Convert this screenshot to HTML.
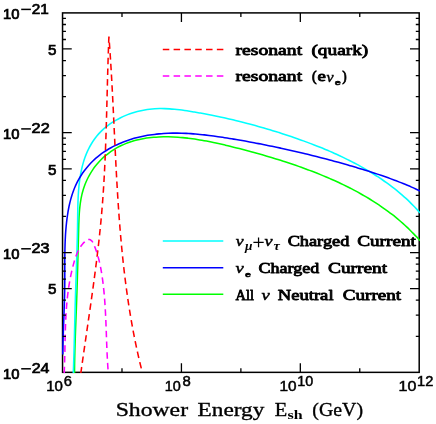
<!DOCTYPE html>
<html><head><meta charset="utf-8"><title>Shower Energy</title>
<style>
html,body{margin:0;padding:0;background:#fff;}
body{width:436px;height:424px;overflow:hidden;}
svg{display:block;}
.tk{font-family:"Liberation Sans",sans-serif;font-size:14px;fill:#000;stroke:#000;stroke-width:0.7px;}
.tx{font-family:"Liberation Sans",sans-serif;font-size:14px;fill:#000;stroke:#000;stroke-width:0.5px;}
.lg{font-family:"Liberation Serif",serif;font-size:14.4px;fill:#000;stroke:#000;stroke-width:0.8px;stroke-linejoin:round;}
.nu{font-family:"Liberation Serif",serif;font-style:italic;font-size:15.6px;fill:#000;stroke:#000;stroke-width:0.5px;}
.sb{font-family:"Liberation Sans",sans-serif;font-weight:bold;font-size:8.0px;fill:#000;stroke:#000;stroke-width:0.5px;}
.sbi{font-family:"Liberation Serif",serif;font-weight:bold;font-style:italic;font-size:11.5px;fill:#000;}
.sbs{font-family:"Liberation Serif",serif;font-weight:bold;font-size:12.5px;fill:#000;}
.ti{font-family:"Liberation Serif",serif;font-size:19.6px;fill:#000;stroke:#000;stroke-width:0.35px;}
</style></head><body>
<svg width="436" height="424" viewBox="0 0 436 424">
<rect x="0" y="0" width="436" height="424" fill="#fff"/>
<defs><clipPath id="cp"><rect x="61.80" y="12.15" width="358.15" height="360.95"/></clipPath></defs>
<rect x="62.55" y="12.90" width="356.65" height="359.45" fill="none" stroke="#000" stroke-width="1.50"/>
<g clip-path="url(#cp)" fill="none" stroke-linejoin="round">
<path d="M74.50,373.00C74.51,372.20 74.52,369.78 74.54,368.17C74.56,366.56 74.58,364.96 74.60,363.35C74.63,361.75 74.66,360.14 74.69,358.54C74.72,356.94 74.76,355.33 74.80,353.73C74.84,352.13 74.88,350.53 74.92,348.94C74.97,347.34 75.01,345.74 75.06,344.15C75.11,342.55 75.16,340.95 75.22,339.36C75.27,337.77 75.32,336.17 75.38,334.58C75.44,332.99 75.49,331.40 75.55,329.80C75.61,328.21 75.67,326.62 75.73,325.03C75.79,323.44 75.85,321.85 75.91,320.26C75.97,318.67 76.03,317.08 76.09,315.49C76.16,313.90 76.22,312.32 76.28,310.73C76.34,309.14 76.40,307.55 76.45,305.96C76.51,304.37 76.57,302.79 76.63,301.20C76.68,299.61 76.74,298.02 76.79,296.43C76.85,294.84 76.90,293.25 76.95,291.66C77.00,290.07 77.05,288.48 77.10,286.89C77.15,285.30 77.20,283.71 77.25,282.12C77.30,280.53 77.34,278.94 77.39,277.35C77.43,275.75 77.48,274.16 77.52,272.57C77.57,270.97 77.61,269.38 77.66,267.78C77.70,266.19 77.74,264.59 77.78,262.99C77.83,261.39 77.87,259.80 77.91,258.20C77.95,256.60 77.99,254.99 78.03,253.39C78.08,251.79 78.12,250.19 78.16,248.58C78.20,246.98 78.24,245.37 78.28,243.76C78.32,242.15 78.36,240.54 78.40,238.93C78.44,237.32 78.48,235.71 78.53,234.09C78.57,232.48 78.61,230.86 78.65,229.24C78.69,227.63 78.73,226.01 78.78,224.39C78.83,222.77 78.89,221.15 78.96,219.53C79.03,217.91 79.10,216.29 79.20,214.68C79.30,213.07 79.42,211.46 79.56,209.86C79.71,208.26 79.87,206.66 80.07,205.07C80.27,203.48 80.49,201.90 80.76,200.33C81.03,198.76 81.32,197.19 81.67,195.64C82.01,194.09 82.40,192.55 82.84,191.03C83.27,189.50 83.75,187.99 84.28,186.49C84.82,185.00 85.39,183.52 86.02,182.06C86.64,180.60 87.31,179.16 88.02,177.75C88.74,176.34 89.50,174.95 90.30,173.58C91.10,172.22 91.95,170.89 92.84,169.59C93.72,168.29 94.65,167.01 95.63,165.78C96.60,164.54 97.61,163.34 98.66,162.18C99.72,161.01 100.81,159.89 101.94,158.80C103.07,157.72 104.24,156.67 105.44,155.66C106.64,154.66 107.88,153.69 109.15,152.76C110.41,151.84 111.72,150.95 113.04,150.11C114.37,149.26 115.73,148.46 117.11,147.69C118.49,146.93 119.90,146.21 121.33,145.53C122.76,144.85 124.22,144.22 125.69,143.63C127.17,143.03 128.67,142.48 130.18,141.98C131.69,141.47 133.22,141.01 134.76,140.59C136.31,140.16 137.87,139.79 139.44,139.44C141.01,139.10 142.59,138.80 144.18,138.53C145.77,138.26 147.37,138.03 148.98,137.83C150.58,137.63 152.20,137.47 153.81,137.33C155.43,137.19 157.05,137.09 158.66,137.01C160.28,136.93 161.90,136.88 163.52,136.85C165.13,136.82 166.75,136.82 168.36,136.84C169.97,136.86 171.58,136.91 173.19,136.97C174.79,137.04 176.40,137.13 178.00,137.23C179.60,137.34 181.20,137.47 182.79,137.62C184.39,137.76 185.98,137.93 187.58,138.11C189.17,138.30 190.76,138.50 192.34,138.71C193.93,138.93 195.51,139.16 197.09,139.41C198.68,139.66 200.26,139.92 201.83,140.20C203.41,140.47 204.99,140.76 206.56,141.06C208.13,141.36 209.70,141.67 211.27,141.99C212.84,142.32 214.40,142.65 215.97,142.99C217.53,143.33 219.09,143.68 220.65,144.04C222.21,144.40 223.77,144.77 225.33,145.14C226.88,145.51 228.44,145.89 229.99,146.27C231.54,146.65 233.09,147.04 234.64,147.43C236.19,147.82 237.73,148.21 239.28,148.61C240.82,149.00 242.36,149.40 243.90,149.81C245.44,150.21 246.98,150.62 248.52,151.03C250.05,151.44 251.59,151.86 253.12,152.28C254.66,152.70 256.19,153.12 257.72,153.55C259.25,153.98 260.78,154.41 262.30,154.85C263.83,155.29 265.35,155.73 266.88,156.17C268.40,156.62 269.92,157.07 271.44,157.53C272.96,157.99 274.48,158.45 276.00,158.92C277.52,159.39 279.03,159.86 280.55,160.34C282.06,160.82 283.58,161.30 285.09,161.79C286.60,162.29 288.11,162.78 289.62,163.29C291.13,163.79 292.64,164.30 294.14,164.82C295.65,165.33 297.16,165.85 298.66,166.38C300.16,166.91 301.67,167.45 303.17,167.99C304.67,168.54 306.17,169.09 307.67,169.65C309.17,170.20 310.67,170.77 312.16,171.34C313.66,171.92 315.15,172.50 316.64,173.08C318.13,173.67 319.62,174.27 321.11,174.88C322.59,175.48 324.07,176.09 325.55,176.72C327.03,177.34 328.51,177.97 329.98,178.61C331.45,179.25 332.92,179.90 334.38,180.55C335.85,181.21 337.31,181.88 338.76,182.56C340.22,183.23 341.67,183.92 343.11,184.61C344.56,185.31 346.00,186.02 347.43,186.73C348.86,187.45 350.29,188.17 351.71,188.91C353.14,189.65 354.55,190.39 355.96,191.15C357.37,191.91 358.77,192.68 360.17,193.46C361.57,194.24 362.96,195.03 364.34,195.83C365.72,196.64 367.09,197.45 368.46,198.28C369.83,199.10 371.19,199.94 372.54,200.79C373.89,201.64 375.23,202.50 376.56,203.37C377.89,204.25 379.22,205.13 380.53,206.03C381.85,206.93 383.16,207.84 384.45,208.77C385.75,209.69 387.03,210.63 388.31,211.58C389.59,212.53 390.85,213.49 392.11,214.47C393.37,215.45 394.61,216.44 395.85,217.44C397.08,218.45 398.30,219.47 399.52,220.50C400.73,221.53 401.93,222.58 403.12,223.64C404.31,224.71 405.48,225.78 406.65,226.87C407.81,227.96 408.96,229.07 410.10,230.19C411.24,231.31 412.37,232.45 413.48,233.60C414.60,234.75 415.70,235.92 416.78,237.10C417.87,238.29 419.46,240.10 420.00,240.70" stroke="#00ff00" stroke-width="1.55"/>
<path d="M73.30,373.00C73.33,372.16 73.43,369.65 73.49,367.98C73.55,366.30 73.61,364.63 73.66,362.95C73.72,361.28 73.77,359.60 73.82,357.93C73.88,356.26 73.93,354.58 73.97,352.91C74.02,351.23 74.07,349.56 74.12,347.88C74.16,346.21 74.21,344.53 74.25,342.86C74.29,341.18 74.34,339.51 74.38,337.83C74.42,336.16 74.46,334.48 74.50,332.81C74.54,331.14 74.58,329.46 74.63,327.79C74.67,326.11 74.71,324.44 74.75,322.76C74.79,321.09 74.83,319.41 74.87,317.74C74.91,316.06 74.95,314.39 75.00,312.71C75.04,311.04 75.08,309.36 75.13,307.69C75.17,306.01 75.22,304.34 75.26,302.66C75.31,300.99 75.36,299.31 75.41,297.64C75.46,295.96 75.51,294.29 75.56,292.61C75.62,290.94 75.67,289.26 75.73,287.59C75.78,285.91 75.84,284.24 75.89,282.56C75.95,280.89 76.01,279.21 76.07,277.54C76.12,275.86 76.18,274.19 76.24,272.51C76.30,270.84 76.36,269.16 76.41,267.49C76.47,265.82 76.53,264.14 76.58,262.47C76.64,260.79 76.69,259.12 76.75,257.44C76.80,255.77 76.86,254.09 76.91,252.42C76.96,250.74 77.01,249.07 77.06,247.39C77.11,245.72 77.15,244.04 77.20,242.37C77.24,240.70 77.29,239.02 77.33,237.35C77.37,235.67 77.40,234.00 77.44,232.32C77.47,230.65 77.51,228.97 77.53,227.30C77.56,225.63 77.59,223.95 77.61,222.28C77.63,220.60 77.65,218.93 77.67,217.26C77.69,215.58 77.71,213.91 77.74,212.23C77.76,210.56 77.79,208.89 77.82,207.21C77.86,205.54 77.90,203.87 77.96,202.19C78.02,200.52 78.08,198.85 78.16,197.18C78.25,195.50 78.34,193.83 78.46,192.16C78.58,190.49 78.71,188.82 78.87,187.14C79.03,185.47 79.21,183.80 79.41,182.13C79.62,180.46 79.85,178.79 80.12,177.13C80.38,175.46 80.67,173.80 81.00,172.15C81.33,170.50 81.68,168.85 82.08,167.22C82.48,165.58 82.91,163.96 83.39,162.35C83.87,160.75 84.38,159.15 84.94,157.58C85.51,156.01 86.11,154.45 86.76,152.92C87.42,151.39 88.12,149.87 88.88,148.39C89.63,146.90 90.44,145.44 91.29,144.01C92.15,142.58 93.06,141.18 94.02,139.82C94.98,138.46 95.99,137.13 97.04,135.85C98.10,134.56 99.20,133.32 100.35,132.12C101.50,130.93 102.70,129.79 103.94,128.69C105.18,127.59 106.47,126.54 107.79,125.54C109.11,124.54 110.48,123.59 111.87,122.67C113.26,121.76 114.70,120.89 116.15,120.06C117.61,119.24 119.10,118.45 120.61,117.70C122.12,116.96 123.67,116.25 125.22,115.59C126.78,114.94 128.37,114.32 129.96,113.75C131.56,113.18 133.18,112.66 134.80,112.18C136.43,111.71 138.07,111.28 139.72,110.90C141.36,110.52 143.02,110.19 144.69,109.91C146.35,109.63 148.01,109.39 149.68,109.20C151.34,109.01 153.01,108.87 154.68,108.77C156.34,108.67 158.01,108.61 159.67,108.59C161.33,108.57 163.00,108.59 164.66,108.64C166.32,108.69 167.98,108.77 169.64,108.88C171.31,108.99 172.97,109.14 174.62,109.30C176.28,109.46 177.94,109.65 179.60,109.85C181.26,110.05 182.91,110.28 184.57,110.52C186.22,110.75 187.88,111.00 189.53,111.26C191.19,111.52 192.84,111.79 194.49,112.07C196.14,112.34 197.79,112.63 199.44,112.92C201.09,113.21 202.74,113.51 204.38,113.82C206.03,114.13 207.68,114.44 209.32,114.77C210.96,115.09 212.61,115.42 214.25,115.75C215.89,116.09 217.53,116.43 219.17,116.78C220.81,117.13 222.45,117.49 224.08,117.85C225.72,118.21 227.36,118.58 228.99,118.96C230.62,119.34 232.26,119.72 233.89,120.11C235.52,120.49 237.15,120.89 238.77,121.29C240.40,121.69 242.03,122.10 243.65,122.51C245.28,122.92 246.90,123.34 248.52,123.77C250.14,124.20 251.76,124.63 253.38,125.07C255.00,125.51 256.61,125.95 258.23,126.41C259.84,126.86 261.45,127.32 263.06,127.78C264.68,128.24 266.28,128.72 267.89,129.19C269.50,129.67 271.10,130.15 272.71,130.64C274.31,131.13 275.91,131.63 277.51,132.13C279.11,132.63 280.71,133.14 282.30,133.66C283.90,134.17 285.49,134.70 287.08,135.22C288.68,135.75 290.27,136.29 291.85,136.83C293.44,137.37 295.03,137.92 296.61,138.47C298.19,139.02 299.77,139.58 301.35,140.15C302.93,140.72 304.50,141.29 306.08,141.87C307.65,142.45 309.22,143.04 310.79,143.63C312.36,144.23 313.92,144.83 315.48,145.44C317.04,146.05 318.60,146.67 320.15,147.30C321.71,147.92 323.26,148.56 324.80,149.20C326.35,149.85 327.89,150.50 329.43,151.16C330.97,151.83 332.50,152.50 334.03,153.18C335.56,153.86 337.08,154.55 338.60,155.25C340.12,155.96 341.64,156.67 343.14,157.39C344.65,158.11 346.16,158.84 347.66,159.59C349.15,160.33 350.65,161.09 352.13,161.85C353.62,162.62 355.10,163.39 356.58,164.18C358.05,164.97 359.52,165.77 360.98,166.59C362.44,167.40 363.90,168.23 365.35,169.06C366.80,169.90 368.24,170.75 369.67,171.62C371.11,172.48 372.53,173.36 373.95,174.25C375.37,175.14 376.78,176.04 378.18,176.96C379.58,177.88 380.97,178.81 382.35,179.76C383.74,180.71 385.11,181.67 386.47,182.64C387.83,183.62 389.18,184.61 390.52,185.62C391.86,186.62 393.18,187.64 394.50,188.68C395.81,189.72 397.12,190.77 398.40,191.84C399.69,192.91 400.97,193.99 402.23,195.09C403.49,196.19 404.74,197.31 405.97,198.44C407.20,199.58 408.42,200.73 409.62,201.90C410.83,203.07 412.01,204.26 413.18,205.46C414.35,206.66 415.51,207.89 416.64,209.13C417.78,210.37 419.44,212.27 420.00,212.90" stroke="#00ffff" stroke-width="1.55"/>
<path d="M62.75,354.60C62.76,353.85 62.79,351.59 62.82,350.08C62.85,348.57 62.88,347.06 62.92,345.56C62.96,344.05 63.00,342.53 63.04,341.02C63.09,339.51 63.13,338.00 63.18,336.48C63.23,334.97 63.28,333.46 63.34,331.94C63.39,330.42 63.44,328.91 63.50,327.39C63.56,325.87 63.61,324.35 63.67,322.84C63.73,321.32 63.78,319.80 63.84,318.28C63.90,316.76 63.95,315.23 64.01,313.71C64.06,312.19 64.12,310.67 64.17,309.15C64.22,307.62 64.27,306.10 64.32,304.58C64.37,303.05 64.42,301.53 64.46,300.00C64.50,298.48 64.54,296.95 64.58,295.43C64.61,293.90 64.64,292.38 64.67,290.85C64.70,289.33 64.72,287.80 64.74,286.27C64.75,284.75 64.76,283.22 64.77,281.70C64.78,280.17 64.78,278.64 64.79,277.12C64.79,275.59 64.79,274.07 64.79,272.54C64.79,271.02 64.79,269.49 64.79,267.96C64.79,266.44 64.78,264.91 64.79,263.39C64.79,261.86 64.80,260.34 64.80,258.81C64.81,257.29 64.83,255.77 64.85,254.24C64.86,252.72 64.89,251.20 64.92,249.67C64.95,248.15 64.99,246.63 65.03,245.11C65.08,243.58 65.13,242.06 65.20,240.54C65.27,239.02 65.34,237.50 65.43,235.99C65.51,234.47 65.61,232.95 65.72,231.43C65.83,229.91 65.96,228.40 66.10,226.88C66.23,225.37 66.39,223.85 66.56,222.34C66.73,220.83 66.91,219.31 67.11,217.80C67.32,216.29 67.54,214.78 67.78,213.27C68.02,211.77 68.28,210.26 68.57,208.77C68.85,207.27 69.16,205.77 69.50,204.29C69.83,202.81 70.19,201.33 70.58,199.86C70.98,198.39 71.39,196.93 71.85,195.49C72.30,194.04 72.78,192.61 73.30,191.19C73.82,189.77 74.37,188.37 74.97,186.98C75.56,185.59 76.19,184.22 76.86,182.86C77.53,181.51 78.24,180.18 78.99,178.86C79.74,177.55 80.53,176.26 81.36,174.99C82.18,173.72 83.04,172.47 83.94,171.25C84.84,170.03 85.77,168.83 86.73,167.66C87.69,166.50 88.69,165.35 89.71,164.24C90.74,163.13 91.79,162.05 92.88,161.00C93.96,159.95 95.07,158.93 96.21,157.95C97.34,156.97 98.51,156.02 99.69,155.10C100.88,154.18 102.09,153.30 103.33,152.45C104.56,151.60 105.82,150.78 107.09,149.99C108.37,149.21 109.67,148.45 110.98,147.73C112.30,147.00 113.63,146.31 114.98,145.64C116.33,144.98 117.70,144.34 119.09,143.74C120.47,143.13 121.87,142.56 123.29,142.01C124.70,141.46 126.13,140.94 127.57,140.45C129.01,139.96 130.46,139.50 131.92,139.06C133.38,138.62 134.85,138.21 136.33,137.82C137.81,137.44 139.30,137.08 140.79,136.75C142.29,136.41 143.79,136.10 145.30,135.82C146.80,135.53 148.32,135.27 149.83,135.04C151.35,134.80 152.87,134.59 154.39,134.40C155.90,134.21 157.43,134.04 158.95,133.89C160.47,133.75 161.99,133.62 163.51,133.52C165.03,133.42 166.55,133.33 168.07,133.27C169.59,133.21 171.11,133.16 172.63,133.14C174.15,133.11 175.67,133.11 177.18,133.12C178.70,133.13 180.22,133.15 181.74,133.20C183.25,133.24 184.77,133.30 186.29,133.37C187.80,133.45 189.32,133.54 190.83,133.64C192.35,133.74 193.86,133.85 195.38,133.98C196.89,134.11 198.41,134.25 199.92,134.40C201.43,134.55 202.95,134.71 204.46,134.88C205.97,135.05 207.48,135.24 208.99,135.43C210.51,135.62 212.02,135.82 213.53,136.02C215.04,136.23 216.55,136.44 218.05,136.66C219.56,136.88 221.07,137.11 222.58,137.34C224.09,137.57 225.59,137.80 227.10,138.04C228.60,138.28 230.11,138.53 231.61,138.77C233.12,139.02 234.62,139.27 236.13,139.53C237.63,139.78 239.13,140.04 240.63,140.30C242.14,140.56 243.64,140.83 245.14,141.10C246.64,141.37 248.14,141.64 249.64,141.92C251.13,142.19 252.63,142.47 254.13,142.76C255.63,143.04 257.12,143.33 258.62,143.62C260.11,143.91 261.61,144.20 263.10,144.50C264.60,144.79 266.09,145.09 267.58,145.40C269.07,145.70 270.57,146.01 272.06,146.32C273.55,146.63 275.03,146.94 276.52,147.25C278.01,147.57 279.50,147.89 280.99,148.21C282.47,148.54 283.96,148.86 285.44,149.19C286.93,149.52 288.41,149.85 289.89,150.18C291.38,150.52 292.86,150.86 294.34,151.20C295.82,151.54 297.30,151.88 298.78,152.23C300.26,152.58 301.73,152.93 303.21,153.28C304.69,153.63 306.16,153.99 307.64,154.35C309.11,154.70 310.58,155.07 312.06,155.43C313.53,155.80 315.00,156.16 316.47,156.53C317.94,156.91 319.41,157.28 320.87,157.66C322.34,158.04 323.81,158.42 325.27,158.80C326.74,159.18 328.20,159.57 329.67,159.96C331.13,160.35 332.59,160.75 334.05,161.14C335.51,161.54 336.97,161.94 338.43,162.34C339.88,162.75 341.34,163.16 342.80,163.57C344.25,163.98 345.71,164.39 347.16,164.81C348.61,165.22 350.06,165.65 351.51,166.07C352.96,166.49 354.41,166.92 355.86,167.35C357.31,167.78 358.75,168.22 360.20,168.66C361.64,169.10 363.09,169.54 364.53,169.98C365.97,170.43 367.41,170.88 368.85,171.34C370.29,171.79 371.73,172.25 373.16,172.72C374.60,173.18 376.03,173.65 377.47,174.13C378.90,174.61 380.33,175.09 381.76,175.58C383.19,176.07 384.62,176.57 386.05,177.08C387.48,177.58 388.90,178.09 390.33,178.62C391.75,179.14 393.17,179.67 394.60,180.20C396.02,180.74 397.44,181.29 398.85,181.85C400.27,182.40 401.69,182.97 403.10,183.55C404.52,184.12 405.93,184.71 407.34,185.31C408.76,185.90 410.17,186.51 411.57,187.13C412.98,187.75 414.39,188.39 415.79,189.03C417.20,189.67 419.30,190.67 420.00,191.00" stroke="#0000ff" stroke-width="1.55"/>
<path d="M80.85,373.00L80.96,372.16L81.08,371.33L81.20,370.49L81.31,369.65L81.43,368.82L81.55,367.98L81.66,367.14L81.67,367.11M82.26,362.94L82.37,362.12L82.49,361.29L82.61,360.45L82.73,359.61L82.84,358.78L82.96,357.94L83.08,357.10L83.17,356.50M83.77,352.32L83.80,352.08L83.92,351.24L84.04,350.41L84.16,349.57L84.29,348.73L84.41,347.89L84.53,347.06L84.65,346.22L84.70,345.89M85.30,341.71L85.38,341.19L85.50,340.35L85.62,339.52L85.74,338.68L85.86,337.84L85.98,337.00L86.11,336.16L86.23,335.33L86.23,335.28M86.84,331.10L86.96,330.30L87.08,329.46L87.20,328.62L87.32,327.78L87.45,326.94L87.57,326.10L87.69,325.26L87.78,324.67M88.38,320.50L88.42,320.23L88.54,319.39L88.66,318.55L88.78,317.71L88.91,316.88L89.03,316.04L89.15,315.20L89.27,314.36L89.31,314.06M89.91,309.89L89.99,309.32L90.11,308.48L90.23,307.64L90.35,306.80L90.47,305.96L90.59,305.12L90.71,304.28L90.83,303.45M91.42,299.27L91.43,299.25L91.54,298.41L91.66,297.57L91.78,296.73L91.90,295.89L92.01,295.05L92.13,294.21L92.25,293.37L92.32,292.83M92.90,288.65L92.95,288.32L93.06,287.48L93.18,286.64L93.29,285.80L93.41,284.96L93.52,284.12L93.63,283.28L93.75,282.44L93.78,282.21M94.34,278.03L94.42,277.40L94.54,276.55L94.65,275.71L94.76,274.87L94.87,274.03L94.98,273.19L95.09,272.35L95.19,271.59M95.73,267.40L95.74,267.30L95.85,266.46L95.96,265.62L96.06,264.78L96.17,263.94L96.28,263.10L96.38,262.25L96.49,261.41L96.54,260.95M97.06,256.76L97.11,256.36L97.21,255.52L97.31,254.68L97.41,253.84L97.51,253.00L97.61,252.15L97.71,251.31L97.81,250.47L97.83,250.31M98.32,246.12L98.40,245.42L98.50,244.57L98.59,243.73L98.69,242.89L98.78,242.05L98.87,241.21L98.97,240.36L99.05,239.66M99.50,235.46L99.52,235.31L99.61,234.47L99.70,233.62L99.78,232.78L99.87,231.94L99.96,231.09L100.05,230.25L100.13,229.41L100.17,229.00M100.59,224.80L100.63,224.35L100.72,223.51L100.80,222.67L100.88,221.82L100.96,220.98L101.04,220.14L101.12,219.29L101.19,218.45L101.20,218.33M101.58,214.13L101.65,213.39L101.72,212.55L101.79,211.70L101.86,210.86L101.93,210.02L102.00,209.17L102.07,208.33L102.13,207.65M102.46,203.44L102.48,203.27L102.54,202.42L102.60,201.58L102.67,200.74L102.73,199.89L102.79,199.05L102.85,198.20L102.92,197.36L102.94,196.96M103.24,192.75L103.27,192.30L103.32,191.45L103.38,190.61L103.43,189.76L103.49,188.92L103.54,188.08L103.60,187.23L103.65,186.39L103.66,186.26M103.91,182.05L103.96,181.32L104.00,180.48L104.05,179.63L104.10,178.79L104.15,177.94L104.20,177.10L104.24,176.25L104.28,175.56M104.50,171.35L104.51,171.19L104.55,170.34L104.60,169.50L104.64,168.65L104.68,167.81L104.72,166.96L104.76,166.12L104.80,165.27L104.82,164.86M105.01,160.64L105.03,160.20L105.07,159.36L105.11,158.51L105.14,157.67L105.18,156.82L105.22,155.98L105.25,155.13L105.29,154.28L105.29,154.15M105.46,149.93L105.49,149.21L105.52,148.37L105.55,147.52L105.59,146.68L105.62,145.83L105.65,144.99L105.68,144.14L105.70,143.43M105.85,139.22L105.86,139.07L105.89,138.22L105.92,137.37L105.94,136.53L105.97,135.68L106.00,134.84L106.03,133.99L106.05,133.15L106.07,132.72M106.20,128.50L106.21,128.07L106.24,127.22L106.27,126.38L106.29,125.53L106.32,124.69L106.34,123.84L106.37,122.99L106.39,122.15L106.39,122.01M106.51,117.79L106.53,117.07L106.56,116.22L106.58,115.38L106.61,114.53L106.63,113.69L106.65,112.84L106.67,111.99L106.69,111.29M106.81,107.07L106.81,106.91L106.83,106.07L106.85,105.22L106.88,104.38L106.90,103.53L106.92,102.68L106.94,101.84L106.96,100.99L106.98,100.57M107.08,96.35L107.10,95.91L107.12,95.06L107.14,94.22L107.16,93.37L107.18,92.52L107.20,91.68L107.23,90.83L107.25,89.98L107.25,89.86M107.36,85.64L107.38,84.90L107.40,84.05L107.42,83.21L107.45,82.36L107.47,81.51L107.49,80.67L107.51,79.82L107.53,79.14M107.65,74.92L107.65,74.74L107.67,73.89L107.70,73.04L107.72,72.19L107.74,71.35L107.77,70.50L107.79,69.65L107.82,68.81L107.83,68.42M107.95,64.21L107.97,63.72L107.99,62.87L108.02,62.03L108.04,61.18L108.07,60.33L108.09,59.48L108.12,58.64L108.15,57.79L108.15,57.71M108.29,53.49L108.31,52.71L108.34,51.86L108.37,51.01L108.40,50.16L108.43,49.31L108.46,48.47L108.49,47.62L108.51,47.00M108.66,42.78L108.67,42.53L108.70,41.69L108.73,40.84L108.77,39.99L108.80,39.14L108.83,38.30L108.87,37.45L108.90,36.60M108.90,36.60L108.97,37.43L109.02,38.22M109.34,42.43L109.34,42.44L109.40,43.28L109.46,44.11L109.52,44.95L109.58,45.78L109.64,46.62L109.70,47.45L109.76,48.29L109.80,48.91M110.09,53.12L110.10,53.30L110.16,54.14L110.21,54.97L110.27,55.81L110.32,56.65L110.38,57.48L110.43,58.32L110.48,59.15L110.51,59.61M110.78,63.82L110.80,64.17L110.85,65.01L110.90,65.84L110.95,66.68L111.01,67.52L111.06,68.35L111.11,69.19L111.16,70.02L111.17,70.31M111.42,74.52L111.45,75.04L111.50,75.88L111.54,76.72L111.59,77.56L111.64,78.39L111.69,79.23L111.73,80.07L111.78,80.90L111.78,81.01M112.01,85.22L112.05,85.93L112.10,86.76L112.14,87.60L112.19,88.44L112.23,89.27L112.28,90.11L112.32,90.95L112.36,91.71M112.58,95.93L112.58,95.97L112.62,96.81L112.67,97.65L112.71,98.49L112.75,99.32L112.79,100.16L112.83,101.00L112.88,101.84L112.91,102.42M113.11,106.63L113.13,106.86L113.17,107.70L113.21,108.54L113.25,109.38L113.29,110.22L113.33,111.05L113.37,111.89L113.41,112.73L113.43,113.13M113.63,117.34L113.65,117.76L113.69,118.59L113.73,119.43L113.77,120.27L113.81,121.11L113.85,121.95L113.89,122.78L113.93,123.62L113.94,123.83M114.14,128.05L114.17,128.65L114.21,129.49L114.25,130.33L114.29,131.17L114.33,132.00L114.37,132.84L114.41,133.68L114.45,134.52L114.45,134.54M114.65,138.76L114.69,139.55L114.73,140.38L114.77,141.22L114.81,142.06L114.85,142.90L114.89,143.74L114.93,144.57L114.96,145.25M115.17,149.46L115.17,149.60L115.22,150.44L115.26,151.28L115.30,152.12L115.34,152.96L115.38,153.79L115.42,154.63L115.46,155.47L115.49,155.96M115.70,160.17L115.72,160.50L115.76,161.33L115.80,162.17L115.84,163.01L115.89,163.85L115.93,164.69L115.97,165.52L116.02,166.36L116.03,166.66M116.26,170.88L116.28,171.39L116.33,172.23L116.37,173.06L116.42,173.90L116.46,174.74L116.51,175.58L116.56,176.41L116.60,177.25L116.61,177.37M116.84,181.58L116.88,182.27L116.93,183.11L116.98,183.95L117.03,184.79L117.08,185.62L117.13,186.46L117.18,187.30L117.22,188.07M117.47,192.28L117.48,192.32L117.53,193.16L117.58,193.99L117.63,194.83L117.68,195.67L117.74,196.50L117.79,197.34L117.84,198.18L117.88,198.77M118.15,202.98L118.17,203.20L118.22,204.03L118.28,204.87L118.34,205.71L118.39,206.54L118.45,207.38L118.51,208.22L118.56,209.05L118.59,209.47M118.89,213.67L118.92,214.07L118.98,214.90L119.04,215.74L119.10,216.58L119.16,217.41L119.22,218.25L119.29,219.08L119.35,219.92L119.37,220.16M119.69,224.36L119.74,224.93L119.80,225.77L119.87,226.60L119.93,227.44L120.00,228.27L120.07,229.11L120.14,229.94L120.21,230.78L120.21,230.84M120.57,235.05L120.63,235.78L120.70,236.62L120.77,237.45L120.85,238.29L120.92,239.12L121.00,239.96L121.07,240.79L121.14,241.52M121.52,245.73L121.53,245.79L121.61,246.63L121.69,247.46L121.77,248.29L121.85,249.13L121.93,249.96L122.01,250.79L122.09,251.63L122.15,252.20M122.57,256.39L122.60,256.63L122.68,257.46L122.77,258.29L122.86,259.12L122.94,259.96L123.03,260.79L123.12,261.62L123.21,262.45L123.26,262.86M123.72,267.05L123.76,267.45L123.86,268.28L123.95,269.11L124.05,269.94L124.14,270.77L124.24,271.60L124.34,272.44L124.44,273.27L124.47,273.51M124.97,277.70L125.04,278.25L125.14,279.08L125.25,279.91L125.35,280.74L125.46,281.57L125.56,282.41L125.67,283.24L125.78,284.07L125.79,284.15M126.34,288.33L126.44,289.04L126.55,289.87L126.66,290.70L126.78,291.53L126.89,292.36L127.01,293.19L127.12,294.02L127.23,294.77M127.83,298.95L127.84,298.99L127.96,299.82L128.08,300.65L128.21,301.48L128.33,302.31L128.45,303.13L128.58,303.96L128.71,304.79L128.80,305.38M129.45,309.54L129.49,309.75L129.62,310.58L129.75,311.41L129.89,312.23L130.02,313.06L130.16,313.89L130.29,314.71L130.43,315.54L130.50,315.96M131.21,320.12L131.28,320.50L131.42,321.32L131.57,322.15L131.71,322.97L131.86,323.80L132.01,324.62L132.16,325.45L132.30,326.27L132.35,326.52M133.12,330.67L133.22,331.22L133.38,332.05L133.53,332.87L133.69,333.69L133.85,334.52L134.01,335.34L134.17,336.16L134.33,336.99L134.35,337.05M135.18,341.19L135.33,341.93L135.50,342.75L135.67,343.57L135.84,344.39L136.01,345.21L136.18,346.04L136.35,346.86L136.50,347.55M137.40,351.68L137.42,351.79L137.60,352.61L137.78,353.43L137.97,354.25L138.15,355.07L138.34,355.89L138.52,356.71L138.71,357.53L138.82,358.02M139.78,362.13L139.86,362.45L140.05,363.27L140.25,364.09L140.45,364.91L140.65,365.73L140.85,366.54L141.05,367.36L141.25,368.18L141.31,368.44" stroke="#ff0000" stroke-width="1.55"/>
<path d="M64.20,373.00L64.22,372.63L64.25,371.89L64.28,371.16L64.31,370.42L64.34,369.68L64.37,368.95L64.39,368.21L64.42,367.48L64.45,366.79M64.58,362.57L64.59,362.34L64.62,361.24L64.65,360.14L64.68,359.04L64.70,357.94L64.73,356.84L64.75,356.07M64.84,351.85L64.85,351.73L64.87,350.63L64.89,349.54L64.91,348.44L64.94,347.35L64.96,346.26L64.98,345.35M65.06,341.13L65.07,340.80L65.09,340.08L65.10,339.35L65.12,338.62L65.13,337.90L65.15,337.17L65.17,336.44L65.19,335.72L65.20,334.99L65.21,334.63M65.33,330.42L65.33,330.28L65.36,329.19L65.40,328.11L65.44,327.02L65.47,325.94L65.51,324.85L65.55,323.92M65.73,319.70L65.74,319.43L65.79,318.34L65.85,317.26L65.91,316.17L65.97,315.09L66.03,314.01L66.08,313.21M66.36,309.00L66.36,308.95L66.44,307.87L66.52,306.79L66.61,305.70L66.70,304.62L66.79,303.54L66.89,302.52M67.30,298.33L67.32,298.13L67.44,297.05L67.56,295.96L67.69,294.88L67.82,293.80L67.95,292.72L68.06,291.87M68.65,287.69L68.65,287.66L68.81,286.58L68.98,285.50L69.16,284.41L69.34,283.33L69.52,282.25L69.69,281.28M70.47,277.13L70.53,276.83L70.68,276.11L70.82,275.38L70.98,274.66L71.13,273.94L71.29,273.21L71.45,272.49L71.61,271.77L71.78,271.04L71.84,270.77M72.84,266.67L72.92,266.34L73.11,265.61L73.30,264.89L73.50,264.16L73.70,263.44L73.90,262.72L74.11,262.00L74.32,261.28L74.53,260.56L74.58,260.41M75.91,256.41L75.94,256.33L76.33,255.30L76.73,254.27L77.15,253.26L77.58,252.27L78.04,251.29L78.45,250.43M80.54,246.76L80.61,246.66L81.19,245.80L81.81,244.96L82.46,244.14L83.13,243.35L83.85,242.59L84.60,241.86L84.68,241.78M88.25,239.61L88.46,239.57L89.04,239.53L89.63,239.59L90.21,239.77L90.79,240.08L91.37,240.52L91.95,241.11L92.52,241.86L92.80,242.30M92.80,242.30L92.82,242.35M94.51,246.21L94.62,246.49L94.98,247.40L95.33,248.30L95.67,249.21L96.00,250.12L96.32,251.03L96.62,251.94L96.75,252.32M97.98,256.35L98.03,256.53L98.29,257.46L98.54,258.38L98.78,259.31L99.01,260.23L99.24,261.16L99.46,262.09L99.58,262.65M100.46,266.78L100.52,267.08L100.70,268.02L100.88,268.96L101.05,269.91L101.22,270.85L101.38,271.79L101.54,272.74L101.61,273.17M102.25,277.35L102.27,277.49L102.40,278.44L102.54,279.40L102.67,280.35L102.79,281.31L102.92,282.26L103.04,283.22L103.11,283.79M103.58,287.98L103.59,288.02L103.69,288.99L103.79,289.95L103.89,290.92L103.98,291.88L104.07,292.85L104.16,293.81L104.22,294.45M104.57,298.66L104.57,298.66L104.65,299.63L104.72,300.60L104.79,301.57L104.86,302.54L104.92,303.52L104.99,304.49L105.03,305.14M105.29,309.35L105.29,309.36L105.34,310.34L105.40,311.31L105.45,312.29L105.50,313.26L105.55,314.24L105.60,315.21L105.63,315.84M105.82,320.06L105.82,320.10L105.86,321.07L105.90,322.05L105.94,323.03L105.98,324.00L106.02,324.98L106.05,325.96L106.08,326.55M106.23,330.77L106.24,330.84L106.27,331.81L106.31,332.79L106.34,333.76L106.37,334.74L106.41,335.71L106.44,336.68L106.46,337.27M106.62,341.48L106.62,341.54L106.65,342.52L106.69,343.49L106.73,344.46L106.76,345.43L106.80,346.39L106.84,347.36L106.86,347.98M107.04,352.19L107.06,352.51L107.10,353.48L107.14,354.44L107.19,355.40L107.24,356.36L107.28,357.32L107.33,358.28L107.35,358.69M107.59,362.90L107.60,363.06L107.66,364.02L107.72,364.97L107.78,365.92L107.84,366.87L107.91,367.82L107.98,368.77L108.02,369.39" stroke="#ff00ff" stroke-width="1.55"/>
</g>
<path d="M62.55,132.72h9.20M419.20,132.72h-9.20M62.55,96.65h3.40M419.20,96.65h-3.40M62.55,75.55h3.40M419.20,75.55h-3.40M62.55,60.58h3.40M419.20,60.58h-3.40M62.55,48.97h9.20M419.20,48.97h-9.20M62.55,39.48h3.40M419.20,39.48h-3.40M62.55,31.46h3.40M419.20,31.46h-3.40M62.55,24.51h3.40M419.20,24.51h-3.40M62.55,18.38h3.40M419.20,18.38h-3.40M62.55,252.53h9.20M419.20,252.53h-9.20M62.55,216.46h3.40M419.20,216.46h-3.40M62.55,195.37h3.40M419.20,195.37h-3.40M62.55,180.40h3.40M419.20,180.40h-3.40M62.55,168.79h9.20M419.20,168.79h-9.20M62.55,159.30h3.40M419.20,159.30h-3.40M62.55,151.28h3.40M419.20,151.28h-3.40M62.55,144.33h3.40M419.20,144.33h-3.40M62.55,138.20h3.40M419.20,138.20h-3.40M62.55,336.28h3.40M419.20,336.28h-3.40M62.55,315.18h3.40M419.20,315.18h-3.40M62.55,300.21h3.40M419.20,300.21h-3.40M62.55,288.60h9.20M419.20,288.60h-9.20M62.55,279.11h3.40M419.20,279.11h-3.40M62.55,271.09h3.40M419.20,271.09h-3.40M62.55,264.14h3.40M419.20,264.14h-3.40M62.55,258.02h3.40M419.20,258.02h-3.40M121.99,372.35v-4.00M121.99,12.90v4.00M181.43,372.35v-9.20M181.43,12.90v9.20M240.88,372.35v-4.00M240.88,12.90v4.00M300.32,372.35v-9.20M300.32,12.90v9.20M359.76,372.35v-4.00M359.76,12.90v4.00" stroke="#000" stroke-width="1.30" fill="none"/>
<path d="M162.8,49.4H223.4" stroke="#ff0000" stroke-width="1.55" stroke-dasharray="6.5 4.31" fill="none"/>
<path d="M162.8,76.0H223.4" stroke="#ff00ff" stroke-width="1.55" stroke-dasharray="6.5 4.31" fill="none"/>
<path d="M162.8,241.0H223.3" stroke="#00ffff" stroke-width="1.55" fill="none"/>
<path d="M162.8,267.7H223.3" stroke="#0000ff" stroke-width="1.55" fill="none"/>
<path d="M162.8,294.2H223.3" stroke="#00ff00" stroke-width="1.55" fill="none"/>
<g style="filter:grayscale(1)">
<text class="tk" x="3.12" y="19.10" textLength="16.51" lengthAdjust="spacingAndGlyphs">10</text>
<path d="M21.20,9.40H30.90" stroke="#000" stroke-width="1.5" fill="none"/>
<text class="tk" x="31.68" y="13.75" textLength="17.02" lengthAdjust="spacingAndGlyphs">21</text>
<text class="tk" x="3.12" y="138.60" textLength="16.51" lengthAdjust="spacingAndGlyphs">10</text>
<path d="M21.20,128.90H30.90" stroke="#000" stroke-width="1.5" fill="none"/>
<text class="tk" x="31.63" y="133.25" textLength="18.03" lengthAdjust="spacingAndGlyphs">22</text>
<text class="tk" x="3.12" y="258.50" textLength="16.51" lengthAdjust="spacingAndGlyphs">10</text>
<path d="M21.20,248.80H30.90" stroke="#000" stroke-width="1.5" fill="none"/>
<text class="tk" x="31.64" y="253.15" textLength="17.92" lengthAdjust="spacingAndGlyphs">23</text>
<text class="tk" x="3.12" y="378.50" textLength="16.51" lengthAdjust="spacingAndGlyphs">10</text>
<path d="M21.20,368.80H30.90" stroke="#000" stroke-width="1.5" fill="none"/>
<text class="tk" x="31.65" y="373.15" textLength="17.66" lengthAdjust="spacingAndGlyphs">24</text>
<text class="tk" x="48.14" y="54.70" textLength="8.45" lengthAdjust="spacingAndGlyphs">5</text>
<text class="tk" x="48.14" y="174.50" textLength="8.45" lengthAdjust="spacingAndGlyphs">5</text>
<text class="tk" x="48.14" y="294.30" textLength="8.45" lengthAdjust="spacingAndGlyphs">5</text>
<text class="tx" x="46.20" y="391.15" textLength="16.73" lengthAdjust="spacingAndGlyphs">10</text>
<text class="tx" x="63.80" y="385.90" textLength="8.20" lengthAdjust="spacingAndGlyphs">6</text>
<text class="tx" x="164.85" y="391.15" textLength="16.06" lengthAdjust="spacingAndGlyphs">10</text>
<text class="tx" x="182.60" y="385.90" textLength="8.30" lengthAdjust="spacingAndGlyphs">8</text>
<text class="tx" x="279.58" y="391.15" textLength="17.07" lengthAdjust="spacingAndGlyphs">10</text>
<text class="tx" x="297.36" y="385.90" textLength="15.95" lengthAdjust="spacingAndGlyphs">10</text>
<text class="tx" x="398.63" y="391.15" textLength="17.85" lengthAdjust="spacingAndGlyphs">10</text>
<text class="tx" x="417.04" y="385.90" textLength="16.25" lengthAdjust="spacingAndGlyphs">12</text>
<text class="lg" x="235.51" y="54.50" textLength="66.61" lengthAdjust="spacingAndGlyphs">resonant</text>
<text class="lg" x="311.45" y="54.50" textLength="56.80" lengthAdjust="spacingAndGlyphs">(quark)</text>
<text class="lg" x="235.51" y="81.10" textLength="66.61" lengthAdjust="spacingAndGlyphs">resonant</text>
<text class="lg" x="311.88" y="81.10" textLength="4.67" lengthAdjust="spacingAndGlyphs">(</text>
<text class="lg" x="317.46" y="81.10" textLength="8.39" lengthAdjust="spacingAndGlyphs">e</text>
<text class="nu" x="326.63" y="81.50" textLength="7.02" lengthAdjust="spacingAndGlyphs">ν</text>
<text class="sb" x="334.83" y="85.40" textLength="5.99" lengthAdjust="spacingAndGlyphs">e</text>
<text class="lg" x="342.27" y="81.10" textLength="4.41" lengthAdjust="spacingAndGlyphs">)</text>
<text class="nu" x="235.81" y="246.40" textLength="7.84" lengthAdjust="spacingAndGlyphs">ν</text>
<text class="sbi" x="244.97" y="249.50" textLength="7.47" lengthAdjust="spacingAndGlyphs">μ</text>
<path d="M253.4,242.4H263.7M258.55,237.5V247.3" stroke="#000" stroke-width="1.25" fill="none"/>
<text class="nu" x="264.40" y="246.40" textLength="8.05" lengthAdjust="spacingAndGlyphs">ν</text>
<text class="sbi" x="273.51" y="250.00" textLength="6.33" lengthAdjust="spacingAndGlyphs">τ</text>
<text class="lg" x="287.65" y="246.00" textLength="61.67" lengthAdjust="spacingAndGlyphs">Charged</text>
<text class="lg" x="357.21" y="246.00" textLength="58.70" lengthAdjust="spacingAndGlyphs">Current</text>
<text class="nu" x="235.60" y="273.30" textLength="8.25" lengthAdjust="spacingAndGlyphs">ν</text>
<text class="sb" x="245.14" y="277.20" textLength="5.87" lengthAdjust="spacingAndGlyphs">e</text>
<text class="lg" x="258.57" y="272.90" textLength="60.65" lengthAdjust="spacingAndGlyphs">Charged</text>
<text class="lg" x="328.00" y="272.90" textLength="59.21" lengthAdjust="spacingAndGlyphs">Current</text>
<text class="lg" x="235.56" y="300.00" textLength="18.33" lengthAdjust="spacingAndGlyphs">All</text>
<text class="nu" x="261.60" y="300.40" textLength="8.25" lengthAdjust="spacingAndGlyphs">ν</text>
<text class="lg" x="277.76" y="300.00" textLength="55.81" lengthAdjust="spacingAndGlyphs">Neutral</text>
<text class="lg" x="342.82" y="300.00" textLength="58.19" lengthAdjust="spacingAndGlyphs">Current</text>
<text class="ti" x="115.69" y="415.60" textLength="72.34" lengthAdjust="spacingAndGlyphs">Shower</text>
<text class="ti" x="197.51" y="415.60" textLength="66.91" lengthAdjust="spacingAndGlyphs">Energy</text>
<text class="ti" x="274.69" y="415.60" textLength="12.45" lengthAdjust="spacingAndGlyphs">E</text>
<text class="sbs" x="287.52" y="419.20" textLength="15.13" lengthAdjust="spacingAndGlyphs">sh</text>
<text class="ti" x="312.30" y="415.60" textLength="50.69" lengthAdjust="spacingAndGlyphs">(GeV)</text>
</g>
</svg>
</body></html>
